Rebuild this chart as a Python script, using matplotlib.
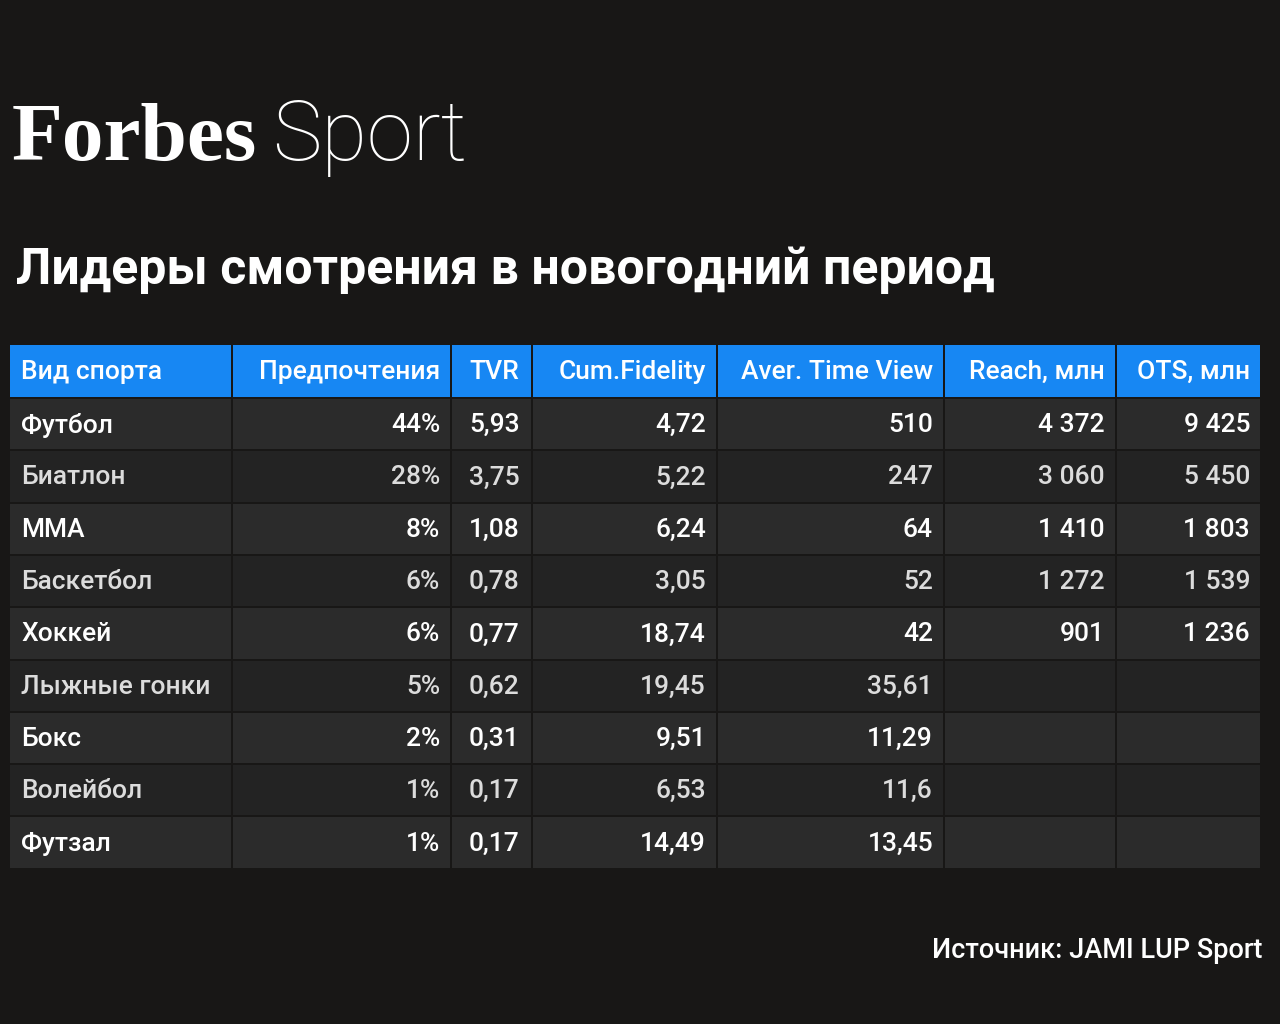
import matplotlib.pyplot as plt
from matplotlib.patches import Rectangle

# -------------------- DATA --------------------
headers = ["Вид спорта", "Предпочтения", "TVR", "Cum.Fidelity",
           "Aver. Time View", "Reach, млн", "OTS, млн"]
sports = ["Футбол", "Биатлон", "MMA", "Баскетбол", "Хоккей",
          "Лыжные гонки", "Бокс", "Волейбол", "Футзал"]
prefs = ["44%", "28%", "8%", "6%", "6%", "5%", "2%", "1%", "1%"]
tvr = ["5,93", "3,75", "1,08", "0,78", "0,77", "0,62", "0,31", "0,17", "0,17"]
cum_fidelity = ["4,72", "5,22", "6,24", "3,05", "18,74", "19,45", "9,51", "6,53", "14,49"]
aver_time = ["510", "247", "64", "52", "42", "35,61", "11,29", "11,6", "13,45"]
reach = ["4 372", "3 060", "1 410", "1 272", "901", "", "", "", ""]
ots = ["9 425", "5 450", "1 803", "1 539", "1 236", "", "", "", ""]

columns = [sports, prefs, tvr, cum_fidelity, aver_time, reach, ots]

# -------------------- LAYOUT --------------------
BG = "#181716"
BLUE = "#1787f3"
ROW_A = "#2b2b2b"
ROW_B = "#232323"
col_edges = [10, 233, 452, 533, 718, 945, 1117, 1262]
align = ["left", "right", "left", "right", "right", "right", "right"]
head_top, head_h, row_h = 345, 52, 52.3
GAP = 2

plt.rcParams['font.family'] = ['Roboto', 'DejaVu Sans']
fig = plt.figure(figsize=(12.8, 10.24), dpi=100, facecolor=BG)
ax = fig.add_axes([0, 0, 1, 1])
ax.set_xlim(0, 1280)
ax.set_ylim(1024, 0)
ax.axis("off")
ax.set_facecolor(BG)

# logo
ax.text(12, 160, "Forbes", family="Liberation Serif", fontweight="bold",
        fontsize=60, color="white", va="baseline")
ax.text(272, 160, "Sport", family="Roboto", fontweight="light",
        fontsize=60, color="white", va="baseline")

ax.text(16, 284, "Лидеры смотрения в новогодний период", fontsize=36,
        fontweight="bold", color="white", va="baseline")

def cell_text(ci, y, s, **kw):
    l, r = col_edges[ci], col_edges[ci + 1]
    if align[ci] == "left":
        x = l + (11 if ci == 0 else 17)
    else:
        x = r - 12
    ax.text(x, y, s, ha=align[ci], va="center", fontsize=19, **kw)

# header
for ci, h in enumerate(headers):
    l, r = col_edges[ci], col_edges[ci + 1]
    ax.add_patch(Rectangle((l, head_top), r - l - GAP, head_h, color=BLUE, lw=0))
    cell_text(ci, head_top + head_h / 2 + 1, h, color="white", fontweight="medium")

# rows
for ri in range(len(sports)):
    top = head_top + head_h + GAP + ri * row_h
    fill = ROW_A if ri % 2 == 0 else ROW_B
    color = "white" if ri % 2 == 0 else "#dcdcdc"
    for ci, col in enumerate(columns):
        l, r = col_edges[ci], col_edges[ci + 1]
        ax.add_patch(Rectangle((l, top), r - l - GAP, row_h - GAP, color=fill, lw=0))
        cell_text(ci, top + row_h / 2, col[ri], color=color, fontweight="medium")

ax.text(1262, 951, "Источник: JAMI LUP Sport", ha="right", va="center",
        fontsize=19.5, fontweight="medium", color="white")

fig.savefig("out.png", dpi=100, facecolor=BG)
